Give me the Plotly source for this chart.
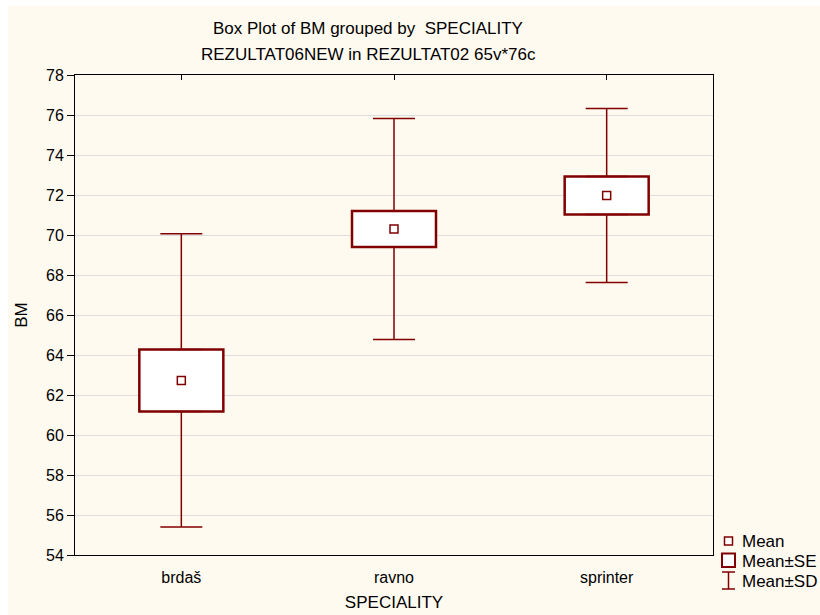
import plotly.graph_objects as go

# Group statistics of BM by speciality
categories = ["brdaš", "ravno", "sprinter"]
means = [62.73, 70.30, 71.98]
se = [1.55, 0.90, 0.95]
sd = [7.33, 5.52, 4.35]

y_ticks = list(range(54, 80, 2))

W, H = 820, 615
ML, MR, MT, MB = 75, 107, 75, 60
PW, PH = W - ML - MR, H - MT - MB

RED = "#800000"
FONT = "Arial, Liberation Sans, sans-serif"


def px_x(px):
    return (px - ML) / PW


def px_y(py):
    return 1 + (MT - py) / PH


box_base = [m - s for m, s in zip(means, se)]
box_height = [2 * s for s in se]
box_top = [m + s for m, s in zip(means, se)]
whisk_len = [d - s for d, s in zip(sd, se)]

fig = go.Figure()

# Mean ± SE boxes
fig.add_trace(go.Bar(
    x=categories, y=box_height, base=box_base, width=0.395,
    marker=dict(color="white", line=dict(color=RED, width=2.5)),
    showlegend=False, hoverinfo="skip",
))

# Mean ± SD whiskers (upper and lower halves, starting at the box edges)
whisker_style = dict(color=RED, thickness=1.5, width=21)
fig.add_trace(go.Scatter(
    x=categories, y=box_top, mode="markers",
    marker=dict(size=1, color="rgba(0,0,0,0)"),
    error_y=dict(type="data", symmetric=False, array=whisk_len,
                 arrayminus=[0] * len(categories), **whisker_style),
    showlegend=False, hoverinfo="skip",
))
fig.add_trace(go.Scatter(
    x=categories, y=box_base, mode="markers",
    marker=dict(size=1, color="rgba(0,0,0,0)"),
    error_y=dict(type="data", symmetric=False, array=[0] * len(categories),
                 arrayminus=whisk_len, **whisker_style),
    showlegend=False, hoverinfo="skip",
))

# Means
fig.add_trace(go.Scatter(
    x=categories, y=means, mode="markers",
    marker=dict(symbol="square", size=8, color="white",
                line=dict(color=RED, width=1.5)),
    showlegend=False,
))

# Invisible trace to carry the top axis with inward ticks
fig.add_trace(go.Scatter(
    x=categories, y=means, xaxis="x2", mode="markers",
    marker=dict(size=1, color="rgba(0,0,0,0)"),
    showlegend=False, hoverinfo="skip",
))

shapes = [
    # cream page background
    dict(type="rect", xref="paper", yref="paper", layer="below",
         x0=px_x(8), x1=px_x(W + 5), y0=px_y(6), y1=px_y(H + 5),
         fillcolor="#FFFAF0", line=dict(width=0)),
    # legend symbols
    dict(type="rect", xref="paper", yref="paper",
         x0=px_x(724.5), x1=px_x(732.5), y0=px_y(537), y1=px_y(545),
         fillcolor="white", line=dict(color=RED, width=1.5)),
    dict(type="rect", xref="paper", yref="paper",
         x0=px_x(722), x1=px_x(735), y0=px_y(553.5), y1=px_y(567),
         fillcolor="white", line=dict(color=RED, width=2)),
    dict(type="path", xref="paper", yref="paper",
         path=(f"M {px_x(722)} {px_y(572)} L {px_x(735)} {px_y(572)} "
               f"M {px_x(728.5)} {px_y(572)} L {px_x(728.5)} {px_y(589)} "
               f"M {px_x(722)} {px_y(589)} L {px_x(735)} {px_y(589)}"),
         line=dict(color=RED, width=1.5)),
]

annotations = [
    dict(text="Box Plot of BM grouped by\u00a0 SPECIALITY", x=px_x(368), y=px_y(29),
         xref="paper", yref="paper", showarrow=False, xanchor="center", yanchor="middle",
         font=dict(size=17, color="black", family=FONT)),
    dict(text="REZULTAT06NEW in REZULTAT02 65v*76c", x=px_x(368), y=px_y(55),
         xref="paper", yref="paper", showarrow=False, xanchor="center", yanchor="middle",
         font=dict(size=17, color="black", family=FONT)),
]
for label, py in [("Mean", 541), ("Mean±SE", 561), ("Mean±SD", 581)]:
    annotations.append(dict(
        text=label, x=px_x(740), y=px_y(py), xref="paper", yref="paper",
        showarrow=False, xanchor="left", yanchor="middle",
        font=dict(size=17, color="black", family=FONT)))

fig.update_layout(
    width=W, height=H,
    margin=dict(l=ML, r=MR, t=MT, b=MB, pad=0, autoexpand=False),
    paper_bgcolor="white", plot_bgcolor="white",
    font=dict(family=FONT, size=16, color="black"),
    showlegend=False,
    shapes=shapes, annotations=annotations,
    xaxis=dict(
        type="category", range=[-0.5, 2.5], automargin=False,
        showline=True, linecolor="black", linewidth=1, mirror=True,
        ticks="", showgrid=False, ticklabelstandoff=8,
        tickfont=dict(size=16),
        title=dict(text="SPECIALITY", font=dict(size=17), standoff=10),
    ),
    xaxis2=dict(
        type="category", overlaying="x", side="top", matches="x",
        ticks="inside", ticklen=5, tickcolor="black", showticklabels=False,
        showgrid=False, showline=False, zeroline=False, automargin=False,
    ),
    yaxis=dict(
        range=[54, 78], tickvals=y_ticks, automargin=False,
        showline=True, linecolor="black", linewidth=1, mirror=True,
        ticks="outside", ticklen=7, tickcolor="black",
        showgrid=True, gridcolor="#DDDDDD", gridwidth=1, zeroline=False,
        tickfont=dict(size=16),
        title=dict(text="BM", font=dict(size=17), standoff=14),
    ),
)

fig.write_html("out.html")
